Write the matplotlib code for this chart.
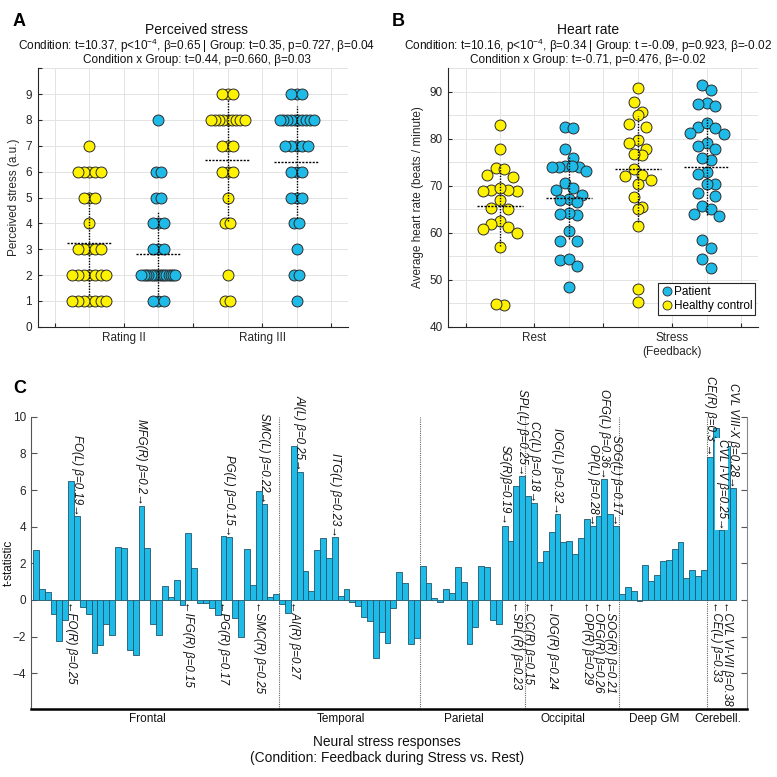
import numpy as np
import matplotlib.pyplot as plt
from matplotlib.lines import Line2D

plt.rcParams['font.family'] = ['Liberation Sans', 'DejaVu Sans']
plt.rcParams['mathtext.fontset'] = 'custom'
plt.rcParams['mathtext.rm'] = 'Liberation Sans'
plt.rcParams['mathtext.it'] = 'Liberation Sans:italic'

YELLOW = '#fff200'
CYAN = '#1fbbe8'
EDGE = '#2b2b2b'
GRID = '#e3e3e3'
AXC = '#262626'

# ---- panel A: perceived stress ratings (a.u.), one value per subject
stress_hc_r2 = [7, 6, 6, 6, 6, 6, 5, 5, 5, 4, 3, 3, 3, 3, 3,
                2, 2, 2, 2, 2, 2, 2, 1, 1, 1, 1, 1, 1, 1]
stress_pt_r2 = [8, 6, 6, 5, 5, 4, 4, 4, 3, 3, 3,
                2, 2, 2, 2, 2, 2, 2, 2, 2, 2, 2, 2, 2, 2, 2, 2, 1, 1, 1]
stress_hc_r3 = [9, 9, 9, 8, 8, 8, 8, 8, 8, 8, 8, 8, 7, 7, 7, 6, 6, 6,
                5, 4, 4, 2, 1, 1]
stress_pt_r3 = [9, 9, 9, 8, 8, 8, 8, 8, 8, 8, 8, 8, 8, 7, 7, 7, 7, 7,
                6, 6, 6, 5, 5, 5, 4, 4, 3, 2, 2, 1]
stress_mean = [3.23, 2.82, 6.46, 6.37]
stress_sd = [2.0, 1.66, 2.37, 2.17]

# ---- panel B: average heart rate (beats / minute)
hr_hc_rest = [82.9, 77.8, 73.7, 73.5, 72.2, 71.9, 69.2, 68.8, 69.2, 68.9, 69.6,
              67.0, 65.3, 65.1, 62.4, 61.9, 60.7, 61.2, 60.0, 56.9, 44.6, 44.85]
hr_pt_rest = [82.5, 82.2, 77.8, 76.0, 74.3, 74.1, 74.0, 73.9, 74.2, 73.1, 70.6,
              69.6, 69.2, 68.1, 67.1, 67.0, 66.5, 63.7, 64.2, 63.9, 60.3, 58.2,
              58.3, 54.3, 54.4, 53.0, 48.4]
hr_hc_stress = [90.9, 87.9, 85.6, 85.1, 83.1, 82.6, 79.7, 79.0, 77.8, 76.5, 76.8,
                73.5, 72.1, 72.2, 71.3, 70.4, 67.65, 65.5, 65.1, 61.4, 48.0, 45.3]
hr_pt_stress = [91.4, 90.4, 87.7, 87.4, 86.9, 82.6, 83.3, 82.4, 81.2, 81.0, 79.2,
                77.8, 78.5, 75.5, 76.0, 72.9, 72.4, 70.4, 70.3, 67.9, 68.5, 65.8,
                65.1, 63.5, 64.0, 58.5, 56.8, 54.5, 52.5]
hr_mean = [65.8, 67.35, 73.5, 74.0]
hr_sd = [8.7, 8.7, 11.25, 10.2]

# ---- panel C: t-statistics per region, grouped by lobe
frontal = [2.73, 0.6, 0.45, -0.78, -2.22, -1.12, 6.47, 4.56, -0.37, -0.78, -2.87,
           -2.43, -1.3, -1.92, 2.87, 2.82, -2.74, -3.0, 5.13, 2.82, -1.3, -1.92,
           0.75, 0.17, 1.07, -0.3, 3.65, 1.75, -0.15, -0.15, -0.43, -0.8, 3.49,
           3.44, -1.0, -2.03, 2.76, 0.8, 5.95, 5.25, 0.18, 0.35]
temporal = [-0.2, -0.69, 8.42, 7.0, 1.58, 0.5, 2.75, 3.38, 2.31, 3.42, 0.22, 0.6,
            -0.11, -0.33, -0.93, -1.13, -3.18, -1.73, -2.33, -0.42, 1.5, 0.9,
            -2.42, -2.1]
parietal = [1.87, 0.91, 0.09, -0.13, 0.6, 0.38, 1.82, 1.0, -2.38, -1.5, 1.85, 1.8,
            -1.07, -1.33, 4.05, 3.22, 6.22, 6.78]
occipital = [5.69, 5.27, 2.05, 2.65, 3.73, 4.67, 3.16, 3.24, 2.53, 3.4, 4.4, 4.05,
             4.56, 6.58, 4.69, 4.05]
deep_gm = [0.33, 0.69, 0.51, -0.05, 1.93, 1.05, 1.35, 2.15, 2.2, 2.76, 3.16, 1.18,
           1.62, 1.31, 1.62]
cerebellum = [7.82, 9.4, 3.8, 8.4, 6.09]
lobe_names = ['Frontal', 'Temporal', 'Parietal', 'Occipital', 'Deep GM', 'Cerebell.']

# labelled regions: (label, bar number, above/below)
annot = [('FO(L) β=0.19', 8, 'up'), ('FO(R) β=0.25', 7, 'down'),
         ('MFG(R) β=0.2', 19, 'up'), ('IFG(R) β=0.15', 27, 'down'),
         ('PG(L) β=0.15', 34, 'up'), ('PG(R) β=0.17', 33, 'down'),
         ('SMC(L) β=0.22', 40, 'up'), ('SMC(R) β=0.25', 39, 'down'),
         ('AI(L) β=0.25', 46, 'up'), ('AI(R) β=0.27', 45, 'down'),
         ('ITG(L) β=0.23', 52, 'up'), ('SG(R)β=0.19', 81, 'up'),
         ('SPL(L) β=0.25', 84, 'up'), ('SPL(R) β=0.23', 83, 'down'),
         ('CC(L) β=0.18', 86, 'up'), ('CC(R) β=0.15', 85, 'down'),
         ('IOG(L) β=0.32', 90, 'up'), ('IOG(R) β=0.24', 89, 'down'),
         ('OP(L) β=0.28', 96, 'up'), ('OP(R) β=0.29', 95, 'down'),
         ('OFG(L) β=0.36', 98, 'up'), ('OFG(R) β=0.26', 97, 'down'),
         ('SOG(L) β=0.17', 100, 'up'), ('SOG(R) β=0.21', 99, 'down'),
         ('CE(R) β=0.3 ', 116, 'up'), ('CE(L) β=0.33', 117, 'down'),
         ('CVL I-V β=0.25', 118, 'up'), ('CVL VI-VII β=0.38', 119, 'down'),
         ('CVL VIII-X β=0.28', 120, 'up')]


def px_per_unit(ax):
    p = ax.transData.transform([[0, 0], [1, 1]])
    return p[1, 0] - p[0, 0], p[1, 1] - p[0, 1]


def spread_offsets(vals, sx, thresh, step_px, max_half_px):
    # group close values, then spread each group symmetrically (centre-out)
    vals = np.asarray(vals, float)
    order = np.argsort(-vals, kind='stable')
    groups = []
    for i in order:
        if groups and vals[groups[-1][0]] - vals[i] <= thresh:
            groups[-1].append(i)
        else:
            groups.append([i])
    off = np.zeros(len(vals))
    for g in groups:
        n = len(g)
        step = step_px
        if n > 1 and (n - 1) * step / 2 > max_half_px:
            step = 2 * max_half_px / (n - 1)
        slots = sorted((np.arange(n) - (n - 1) / 2) * step, key=lambda s: (abs(s), s))
        for i, s in zip(g, slots):
            off[i] = s / sx
    return off


def style_swarm(ax, xlabels):
    ax.set_xlim(0, 9)
    ax.set_xticks([0.5, 2.5, 4.5, 6.5, 8.5])
    ax.set_xticklabels(['', xlabels[0], '', xlabels[1], ''])
    ax.set_xticks([1.5, 3.5, 5.5, 7.5], minor=True)
    ax.grid(True, which='both', color=GRID, lw=0.7)
    ax.set_axisbelow(True)
    ax.tick_params(direction='in', length=3, color=AXC, labelcolor=AXC,
                   labelsize=8.5, pad=4)
    ax.tick_params(which='minor', length=0)
    for s in ['top', 'right']:
        ax.spines[s].set_visible(False)
    for s in ['left', 'bottom']:
        ax.spines[s].set_color(AXC)
        ax.spines[s].set_linewidth(0.8)


def mean_sd(ax, xs, means, sds):
    for x0, m, sd in zip(xs, means, sds):
        ax.plot([x0 - 0.66, x0 + 0.66], [m, m], color='k', lw=1,
                ls=(0, (1.5, 1)), zorder=4)
        ax.plot([x0, x0], [m - sd, m + sd], color='k', lw=1,
                ls=(0, (1, 1)), zorder=4)


fig = plt.figure(figsize=(7.77, 7.77), dpi=100)
axA = fig.add_axes([0.0485, 0.5795, 0.3998, 0.3326])
axB = fig.add_axes([0.577, 0.5795, 0.399, 0.3326])
axC = fig.add_axes([0.0395, 0.0875, 0.9215, 0.3762])

cols = [1.5, 3.5, 5.5, 7.5]
msize = 62

# ---- A
style_swarm(axA, ['Rating II', 'Rating III'])
axA.set_ylim(0, 10)
axA.set_yticks(range(0, 11))
axA.set_yticklabels([str(i) for i in range(10)] + [''])
sx, sy = px_per_unit(axA)
for x0, vals, c in zip(cols, [stress_hc_r2, stress_pt_r2, stress_hc_r3, stress_pt_r3],
                       [YELLOW, CYAN, YELLOW, CYAN]):
    off = spread_offsets(vals, sx, 0.0, 5.7, 17.0)
    axA.scatter(x0 + off, vals, s=msize, c=c, edgecolors=EDGE, linewidths=0.7,
                zorder=2, clip_on=False)
mean_sd(axA, cols, stress_mean, stress_sd)
axA.set_ylabel('Perceived stress (a.u.)', fontsize=8.5, color=AXC, labelpad=4)

# ---- B
style_swarm(axB, ['Rest', 'Stress\n(Feedback)'])
axB.set_ylim(40, 95)
axB.set_yticks(range(40, 91, 10))
axB.set_yticks(range(45, 96, 10), minor=True)
sx, sy = px_per_unit(axB)
for x0, vals, c in zip(cols, [hr_hc_rest, hr_pt_rest, hr_hc_stress, hr_pt_stress],
                       [YELLOW, CYAN, YELLOW, CYAN]):
    off = spread_offsets(vals, sx, 2.5, 8.5, 17.0)
    axB.scatter(x0 + off, vals, s=msize, c=c, edgecolors=EDGE, linewidths=0.7,
                zorder=2)
mean_sd(axB, cols, hr_mean, hr_sd)
axB.set_ylabel('Average heart rate (beats / minute)', fontsize=8.5, color=AXC,
               labelpad=4)
handles = [Line2D([], [], ls='none', marker='o', ms=6.5, mfc=CYAN, mec=EDGE,
                  mew=0.6, label='Patient'),
           Line2D([], [], ls='none', marker='o', ms=6.5, mfc=YELLOW, mec=EDGE,
                  mew=0.6, label='Healthy control')]
leg = axB.legend(handles=handles, loc='lower right', bbox_to_anchor=(0.99, 0.045),
                 borderaxespad=0, fontsize=8.5, handletextpad=0.1,
                 handlelength=1.0, labelspacing=0.15, borderpad=0.25,
                 fancybox=False, framealpha=1)
leg.get_frame().set_edgecolor(AXC)
leg.get_frame().set_linewidth(0.8)


# titles
def ptitle(xc, lines):
    fig.text(xc, 1 - 30.5 / 777, lines[0], ha='center', va='center', fontsize=10,
             color='#111111')
    fig.text(xc, 1 - 45.5 / 777, lines[1], ha='center', va='center', fontsize=8.5,
             color='#111111')
    fig.text(xc, 1 - 60.5 / 777, lines[2], ha='center', va='center', fontsize=8.5,
             color='#111111')


ptitle(196.5 / 777, ['Perceived stress',
                     'Condition: t=10.37, p<10$^{-4}$, β=0.65 | Group: t=0.35, p=0.727, β=0.04',
                     'Condition x Group: t=0.44, p=0.660, β=0.03'])
ptitle(588 / 777, ['Heart rate',
                   'Condition: t=10.16, p<10$^{-4}$, β=0.34 | Group: t =-0.09, p=0.923, β=-0.02',
                   'Condition x Group: t=-0.71, p=0.476, β=-0.02'])

# ---- C
lobes = [frontal, temporal, parietal, occipital, deep_gm, cerebellum]
tvals = np.concatenate(lobes)
idx = np.arange(1, len(tvals) + 1)
axC.bar(idx, tvals, width=1.0, color=CYAN, edgecolor='#22566a', linewidth=0.6,
        zorder=2)
axC.set_xlim(0.1, 122.3)
axC.set_ylim(-5.95, 10)
axC.set_yticks(range(-4, 11, 2))
axC.set_xticks([])
axC.tick_params(axis='y', direction='in', length=4, right=True, labelright=False,
                labelsize=8.5, color='#555555', labelcolor=AXC)
axC.spines['top'].set_visible(False)
axC.spines['left'].set_color('#555555')
axC.spines['right'].set_color('#888888')
axC.spines['left'].set_linewidth(0.8)
axC.spines['right'].set_linewidth(0.8)
axC.spines['bottom'].set_linewidth(1.8)
axC.spines['bottom'].set_color('black')

bounds = np.cumsum([0] + [len(l) for l in lobes]) + 0.5
for b in bounds[1:-1]:
    axC.axvline(b, color='#666666', ls=(0, (1, 1)), lw=0.8, zorder=1)
right_edge = axC.get_xlim()[1]
for k, name in enumerate(lobe_names):
    hi = bounds[k + 1] if k < len(lobe_names) - 1 else right_edge
    xc = (bounds[k] + hi) / 2 - 1.5
    axC.text(xc, -6.5, name, ha='center', va='center', fontsize=8.5, color='#111111')

for lab, n, side in annot:
    v = tvals[n - 1]
    kw = dict(rotation=-90, ha='center', fontsize=8.3, style='italic',
              color='#111111', clip_on=False, zorder=5)
    if lab.startswith('CVL I-V'):
        kw['bbox'] = dict(facecolor='white', edgecolor='none', pad=0.6)
    if side == 'up':
        axC.text(n, v + 0.05, lab + '→', va='bottom', **kw)
    else:
        axC.text(n, -0.05, '←' + lab, va='top', **kw)

fig.text(9 / 777, 1 - 563 / 777, 't-statistic', rotation=90, ha='center',
         va='center', fontsize=8.5, color='#111111')
fig.text(387 / 777, 1 - 742 / 777, 'Neural stress responses', ha='center',
         va='center', fontsize=9.9, color='#111111')
fig.text(387 / 777, 1 - 758 / 777, '(Condition: Feedback during Stress vs. Rest)',
         ha='center', va='center', fontsize=9.9, color='#111111')

for lab, x, y in [('A', 19, 21), ('B', 398, 21), ('C', 19.5, 388)]:
    fig.text(x / 777, 1 - y / 777, lab, ha='center', va='center', fontsize=13,
             fontweight='bold')

fig.savefig('out.png', dpi=100)
